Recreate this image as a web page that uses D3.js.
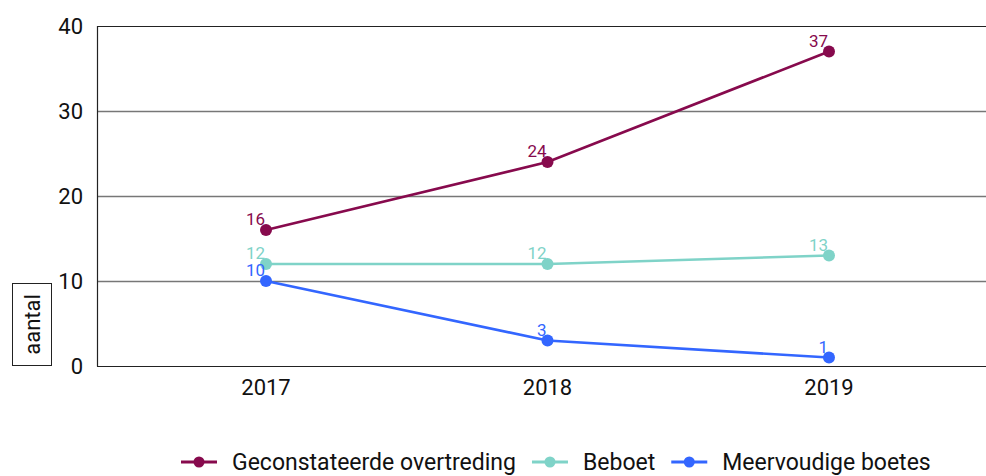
<!DOCTYPE html>
<html lang="nl">
<head>
<meta charset="utf-8" />
<title>Overtredingen</title>
<script src="https://d3js.org/d3.v7.min.js"></script>
<style>
  body { margin: 0; background: #fff; }
  svg text { font-family: Roboto, "Noto Sans", sans-serif; }
</style>
</head>
<body>
<script>
// data
var years = ["2017", "2018", "2019"];
var seriesNames = ["Geconstateerde overtreding", "Beboet", "Meervoudige boetes"];
var overtreding = [16, 24, 37];
var beboet = [12, 12, 13];
var meervoudig = [10, 3, 1];
var yTicks = [0, 10, 20, 30, 40];
var colors = ["#870a4d", "#7fd3c8", "#3366ff"];

var w = 986, h = 476;
var plotLeft = 97, plotTop = 26, plotBottom = 366, plotRight = 986;

var svg = d3.select("body").append("svg")
    .attr("width", w)
    .attr("height", h);

var x = d3.scalePoint()
    .domain(years)
    .range([266, 829]);

var y = d3.scaleLinear()
    .domain([0, 40])
    .range([plotBottom, plotTop]);

// gridlines
svg.append("g")
    .selectAll("line")
    .data(yTicks)
    .enter()
    .append("line")
    .attr("x1", plotLeft)
    .attr("x2", plotRight)
    .attr("y1", function (d) { return y(d) + 0.5; })
    .attr("y2", function (d) { return y(d) + 0.5; })
    .attr("stroke", function (d) { return (d === 0 || d === 40) ? "#222" : "#777"; })
    .attr("stroke-width", function (d) { return (d === 0 || d === 40) ? 1.2 : 1.4; });

// left axis line
svg.append("line")
    .attr("x1", plotLeft + 0.5).attr("x2", plotLeft + 0.5)
    .attr("y1", plotTop).attr("y2", plotBottom + 0.5)
    .attr("stroke", "#222")
    .attr("stroke-width", 1.2);

// y tick labels
svg.append("g")
    .selectAll("text")
    .data(yTicks)
    .enter()
    .append("text")
    .attr("x", 83)
    .attr("y", function (d) { return y(d); })
    .attr("dy", "0.36em")
    .attr("text-anchor", "end")
    .attr("font-size", "22px")
    .attr("fill", "#111")
    .text(function (d) { return d; });

// x tick labels
svg.append("g")
    .selectAll("text")
    .data(years)
    .enter()
    .append("text")
    .attr("x", function (d) { return x(d); })
    .attr("y", 395)
    .attr("text-anchor", "middle")
    .attr("font-size", "22px")
    .attr("fill", "#111")
    .text(function (d) { return d; });

// y axis title in a box
svg.append("rect")
    .attr("x", 12.5).attr("y", 283.5)
    .attr("width", 39).attr("height", 82)
    .attr("fill", "#fff")
    .attr("stroke", "#222")
    .attr("stroke-width", 1);
svg.append("text")
    .attr("transform", "translate(32,324.5) rotate(-90)")
    .attr("text-anchor", "middle")
    .attr("dy", "0.36em")
    .attr("font-size", "22px")
    .attr("fill", "#111")
    .text("aantal");

// series
var series = [overtreding, beboet, meervoudig];
var line = d3.line()
    .x(function (d, i) { return x(years[i]); })
    .y(function (d) { return y(d); });

series.forEach(function (vals, s) {
    var g = svg.append("g");
    g.append("path")
        .datum(vals)
        .attr("d", line)
        .attr("fill", "none")
        .attr("stroke", colors[s])
        .attr("stroke-width", 2.6);
    g.selectAll("circle")
        .data(vals)
        .enter()
        .append("circle")
        .attr("cx", function (d, i) { return x(years[i]); })
        .attr("cy", function (d) { return y(d); })
        .attr("r", 6)
        .attr("fill", colors[s]);
    g.selectAll("text")
        .data(vals)
        .enter()
        .append("text")
        .attr("x", function (d, i) { return x(years[i]) - 1; })
        .attr("y", function (d) { return y(d) - 5; })
        .attr("text-anchor", "end")
        .attr("font-size", "17px")
        .attr("fill", colors[s])
        .text(function (d) { return d; });
});

// legend
var legend = svg.append("g");
var lx = 0;
seriesNames.forEach(function (name, s) {
    var item = legend.append("g").attr("transform", "translate(" + lx + ",0)");
    item.append("line")
        .attr("x1", 0).attr("x2", 36)
        .attr("y1", 0).attr("y2", 0)
        .attr("stroke", colors[s])
        .attr("stroke-width", 3);
    item.append("circle")
        .attr("cx", 18).attr("cy", 0).attr("r", 5.5)
        .attr("fill", colors[s]);
    var t = item.append("text")
        .attr("x", 51)
        .attr("dy", "0.36em")
        .attr("font-size", "23px")
        .attr("fill", "#111")
        .text(name);
    lx += 51 + t.node().getComputedTextLength() + 16;
});
legend.attr("transform", "translate(181,462)");
</script>
</body>
</html>
